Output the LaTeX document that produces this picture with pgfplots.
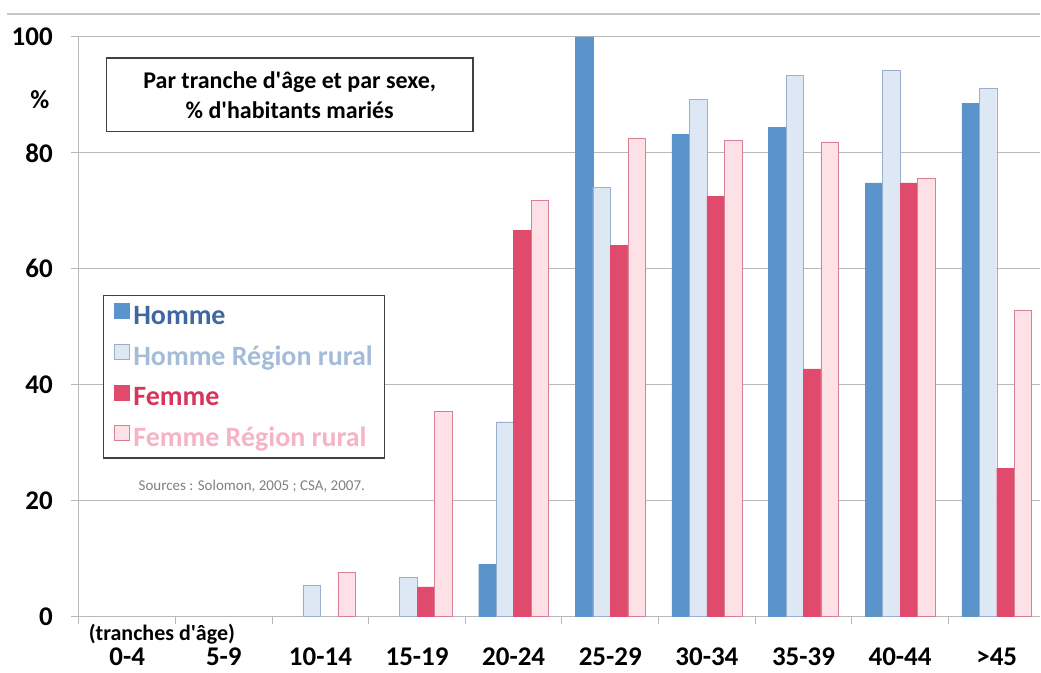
\documentclass[border=0pt]{standalone}
\usepackage{pgfplots}
\pgfplotsset{compat=1.18}
\usepackage{fontspec}
\setmainfont{Carlito}

\definecolor{homme}{HTML}{5B94CA}
\definecolor{hommeR}{HTML}{DDE8F4}
\definecolor{hommeRb}{HTML}{9AAFCB}
\definecolor{femme}{HTML}{E04A6C}
\definecolor{femmeR}{HTML}{FDE1E7}
\definecolor{femmeRb}{HTML}{D98097}
\definecolor{hommeT}{HTML}{3F67A0}
\definecolor{hommeRT}{HTML}{A4BCDA}
\definecolor{femmeT}{HTML}{D8355C}
\definecolor{femmeRT}{HTML}{F7B3C6}
\definecolor{gridc}{HTML}{B8B8B8}
\definecolor{boxc}{HTML}{404040}

\pgfplotsset{
  sq/.style={legend image code/.code={\draw[##1,line width=0.8pt] (0pt,-3pt) rectangle (15pt,12pt);}}
}

\begin{document}
\begin{tikzpicture}[x=1pt,y=1pt]
\path (0,0) rectangle (1041,673);
\draw[gridc!80, line width=2pt] (7,659) -- (1041,659);
\begin{axis}[
  at={(79pt,56pt)}, anchor=south west,
  scale only axis, width=962pt, height=580pt,
  xmin=-0.5, xmax=9.448, ymin=0, ymax=100,
  ybar=0pt, bar width=17.5pt,
  axis lines*=left,
  axis line style={draw=gridc, line width=1pt},
  tick style={draw=gridc, line width=1pt},
  tick align=outside, major tick length=8pt,
  xtick={-0.5,0.5,...,9.5}, xticklabels={},
  extra x ticks={0,1,...,9},
  extra x tick labels={0-4,5-9,10-14,15-19,20-24,25-29,30-34,35-39,40-44,>45},
  extra x tick style={major tick length=0pt, grid=none},
  xticklabel style={font=\fontsize{27}{30}\selectfont\bfseries, anchor=north, inner sep=0pt, yshift=-31pt},
  ytick={0,20,...,100},
  ymajorgrids, grid style={draw=gridc, line width=1pt},
  yticklabel style={font=\fontsize{27}{30}\selectfont\bfseries, anchor=east, inner sep=0pt, xshift=-18pt},
  /pgf/number format/assume math mode=true,
  clip=false,
  legend style={at={(0.025,0.555)}, anchor=north west, draw=boxc, line width=1.2pt,
    font=\fontsize{28}{30}\selectfont\bfseries, row sep=16pt, inner xsep=10pt, inner ysep=8pt,
    cells={anchor=west}, /tikz/every odd column/.append style={column sep=2pt}},
]
\addplot[fill=homme, draw=homme, sq] coordinates {(4,9.0) (5,100) (6,83.2) (7,84.4) (8,74.8) (9,88.6)};
\addplot[fill=hommeR, draw=hommeRb, sq] coordinates {(2,5.4) (3,6.8) (4,33.6) (5,74.1) (6,89.2) (7,93.4) (8,94.3) (9,91.2)};
\addplot[fill=femme, draw=femme, sq] coordinates {(3,5.1) (4,66.6) (5,64.0) (6,72.5) (7,42.7) (8,74.8) (9,25.6)};
\addplot[fill=femmeR, draw=femmeRb, sq] coordinates {(2,7.6) (3,35.4) (4,71.9) (5,82.6) (6,82.1) (7,81.9) (8,75.7) (9,52.9)};
\legend{\textcolor{hommeT}{Homme},\textcolor{hommeRT}{Homme Région rural},\textcolor{femmeT}{Femme},\textcolor{femmeRT}{Femme Région rural}}
\end{axis}
\node[draw=boxc, line width=1.2pt, minimum width=367pt, minimum height=74pt, align=center,
  font=\fontsize{24}{30}\selectfont\bfseries] at (290,578) {Par tranche d\textquotesingle âge et par sexe,\\\% d\textquotesingle habitants mariés};
\node[font=\fontsize{26}{28}\selectfont\bfseries] at (40,573) {\%};
\node[font=\fontsize{15}{18}\selectfont, text=gray] at (252,186) {Sources : Solomon, 2005 ; CSA, 2007.};
\node[font=\fontsize{22}{24}\selectfont\bfseries] at (162,38) {(tranches d\textquotesingle âge)};
\end{tikzpicture}
\end{document}
